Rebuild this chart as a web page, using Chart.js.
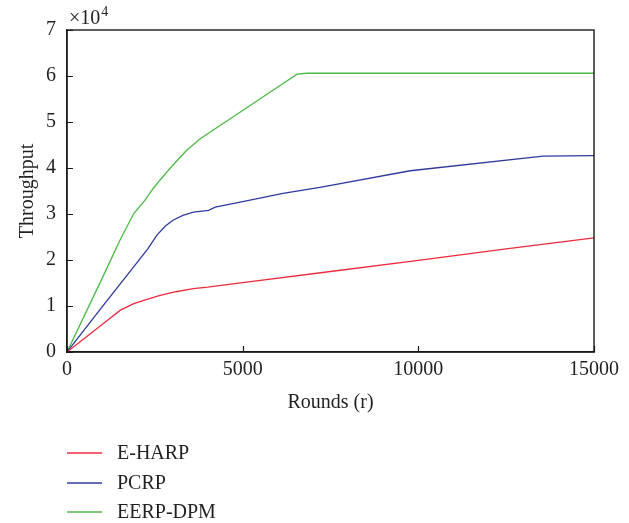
<!DOCTYPE html>
<html>
<head>
<meta charset="utf-8">
<script src="https://cdn.jsdelivr.net/npm/chart.js@4/dist/chart.umd.min.js"></script>
<style>
  html, body { margin: 0; padding: 0; background: #fff; }
  canvas { display: block; }
</style>
</head>
<body>
<canvas id="thrChart" width="629" height="523"></canvas>
<script>
// Throughput (x10^4) vs rounds
const seriesNames = ['E-HARP', 'PCRP', 'EERP-DPM']
const seriesColors = ['#ec2b3c', '#2f3b9c', '#4cb944']

const roundsEHARP = [0, 1000, 1520, 1900, 2300, 2650, 3100, 3600, 4000, 5000, 7500, 10000, 12500, 15000]
const valuesEHARP = [0, 0.6, 0.91, 1.05, 1.15, 1.23, 1.31, 1.38, 1.41, 1.51, 1.75, 1.99, 2.24, 2.48]

const roundsPCRP = [0, 1000, 2300, 2560, 2800, 3030, 3300, 3600, 4030, 4220, 4930, 6150, 7200, 9770, 13550, 15000]
const valuesPCRP = [0, 0.98, 2.24, 2.54, 2.74, 2.87, 2.97, 3.04, 3.08, 3.15, 3.26, 3.45, 3.58, 3.94, 4.26, 4.27]

const roundsEERP = [0, 1000, 1500, 1900, 2200, 2460, 2650, 3000, 3400, 3800, 5000, 6000, 6550, 6830, 10000, 15000]
const valuesEERP = [0, 1.6, 2.42, 3.01, 3.28, 3.56, 3.74, 4.05, 4.38, 4.64, 5.25, 5.76, 6.04, 6.06, 6.06, 6.06]

const xTicks = [0, 5000, 10000, 15000]
const yTicks = [0, 1, 2, 3, 4, 5, 6, 7]

const FONT = 'Liberation Serif'
const TEXT = '#231f20'
const SIZE = 20

const toPoints = (xs, ys) => xs.map((x, i) => ({ x, y: ys[i] }))

// frame, inward tick marks, the x10^4 marker and the legend below
const extras = {
  id: 'extras',
  afterDraw(chart) {
    const { ctx, chartArea: a, scales } = chart
    ctx.save()
    ctx.strokeStyle = '#1a1a1a'
    ctx.lineWidth = 1.4
    ctx.strokeRect(a.left, a.top, a.right - a.left, a.bottom - a.top)

    ctx.lineWidth = 1.2
    ctx.beginPath()
    xTicks.forEach(v => {
      const x = Math.round(scales.x.getPixelForValue(v)) + 0.5
      ctx.moveTo(x, a.bottom); ctx.lineTo(x, a.bottom - 6)
    })
    yTicks.forEach(v => {
      const y = Math.round(scales.y.getPixelForValue(v)) + 0.5
      ctx.moveTo(a.left, y); ctx.lineTo(a.left + 6, y)
    })
    ctx.stroke()

    ctx.fillStyle = TEXT
    ctx.textBaseline = 'alphabetic'
    ctx.textAlign = 'left'
    ctx.font = `${SIZE}px "${FONT}"`
    ctx.fillText('×10', a.left + 2, 24)
    const w = ctx.measureText('×10').width
    ctx.font = `14px "${FONT}"`
    ctx.fillText('4', a.left + 2 + w + 1, 16)

    ctx.font = `${SIZE}px "${FONT}"`
    ctx.textBaseline = 'middle'
    const rows = [453, 483, 512]
    chart.data.datasets.forEach((ds, i) => {
      const y = rows[i]
      ctx.strokeStyle = ds.borderColor
      ctx.lineWidth = 1.6
      ctx.beginPath()
      ctx.moveTo(67, y)
      ctx.lineTo(102, y)
      ctx.stroke()
      ctx.fillText(ds.label, 117, y + 1)
    })
    ctx.restore()
  }
}

new Chart(document.getElementById('thrChart').getContext('2d'), {
  type: 'line',
  data: {
    datasets: [
      { label: seriesNames[0], data: toPoints(roundsEHARP, valuesEHARP), borderColor: seriesColors[0] },
      { label: seriesNames[1], data: toPoints(roundsPCRP, valuesPCRP), borderColor: seriesColors[1] },
      { label: seriesNames[2], data: toPoints(roundsEERP, valuesEERP), borderColor: seriesColors[2] },
    ]
  },
  options: {
    responsive: false,
    animation: false,
    devicePixelRatio: 1,
    layout: { padding: { left: 0, right: 35, top: 30, bottom: 101 } },
    elements: {
      point: { radius: 0 },
      line: { borderWidth: 1.3, tension: 0, fill: false }
    },
    plugins: { legend: { display: false }, tooltip: { enabled: false } },
    scales: {
      x: {
        type: 'linear', min: 0, max: 15000,
        afterBuildTicks: s => { s.ticks = xTicks.map(v => ({ value: v })) },
        afterFit: s => { s.height = 70 },
        border: { display: true, color: '#1a1a1a', width: 1.4 },
        grid: { display: false, drawTicks: false },
        ticks: { color: TEXT, font: { family: FONT, size: SIZE }, padding: 6, maxRotation: 0, callback: v => String(v) },
        title: { display: true, text: 'Rounds (r)', color: TEXT, font: { family: FONT, size: SIZE }, padding: { top: 0, bottom: 7 } }
      },
      y: {
        type: 'linear', min: 0, max: 7,
        afterBuildTicks: s => { s.ticks = yTicks.map(v => ({ value: v })) },
        afterFit: s => { s.width = 67 },
        border: { display: true, color: '#1a1a1a', width: 1.4 },
        grid: { display: false, drawTicks: false },
        ticks: { color: TEXT, font: { family: FONT, size: SIZE }, padding: 11, callback: v => String(v) },
        title: { display: true, text: 'Throughput', color: TEXT, font: { family: FONT, size: SIZE }, padding: { top: 16, bottom: 0 } }
      }
    }
  },
  plugins: [extras]
})
</script>
</body>
</html>
